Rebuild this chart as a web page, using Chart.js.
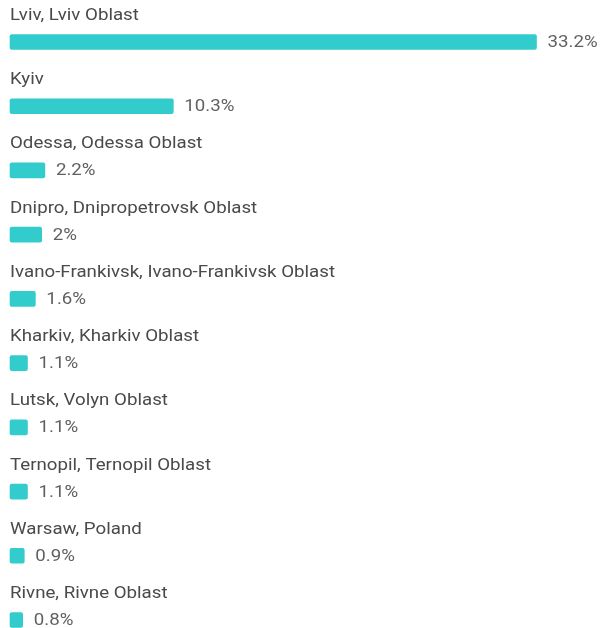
<!DOCTYPE html>
<html>
<head>
<meta charset="utf-8">
<script src="https://cdn.jsdelivr.net/npm/chart.js@4"></script>
<style>
    html, body { margin: 0; padding: 0; background: #fff; overflow: hidden; }
    #wrap { width: 602px; height: 628px; position: relative; }
</style>
</head>
<body>
<div id="wrap"><canvas id="cityChart"></canvas></div>
<script>
const cities = [
    "Lviv, Lviv Oblast",
    "Kyiv",
    "Odessa, Odessa Oblast",
    "Dnipro, Dnipropetrovsk Oblast",
    "Ivano-Frankivsk, Ivano-Frankivsk Oblast",
    "Kharkiv, Kharkiv Oblast",
    "Lutsk, Volyn Oblast",
    "Ternopil, Ternopil Oblast",
    "Warsaw, Poland",
    "Rivne, Rivne Oblast"
];
const shares = [33.2, 10.3, 2.2, 2, 1.6, 1.1, 1.1, 1.1, 0.9, 0.8];

const barColor = "#33cccc";
const labelFont = "17px Roboto";
const stretch = 1.1; // text in the source is a bit wider than plain Roboto

// draws the city name above each bar and the percent to its right
const barText = {
    id: "barText",
    afterDatasetsDraw(chart) {
        const ctx = chart.ctx;
        const meta = chart.getDatasetMeta(0);
        ctx.save();
        ctx.scale(stretch, 1);
        ctx.font = labelFont;
        ctx.textAlign = "left";
        ctx.textBaseline = "alphabetic";
        meta.data.forEach((bar, i) => {
            ctx.fillStyle = "#4a4a4a";
            ctx.fillText(cities[i], chart.chartArea.left / stretch, bar.y - 22);
            ctx.fillStyle = "#616161";
            ctx.fillText(shares[i] + "%", (bar.x + 11) / stretch, bar.y + 5);
        });
        ctx.restore();
    }
};

new Chart(document.getElementById("cityChart"), {
    type: "bar",
    data: {
        labels: cities,
        datasets: [{
            data: shares,
            backgroundColor: barColor,
            borderRadius: 2,
            borderSkipped: false,
            barThickness: 15,
            clip: false
        }]
    },
    options: {
        indexAxis: "y",
        responsive: true,
        maintainAspectRatio: false,
        animation: false,
        events: [],
        layout: { padding: { left: 10, right: 10, top: 42, bottom: 8 } },
        scales: {
            x: {
                min: 0,
                max: 36.7,
                display: false,
                grid: { display: false }
            },
            y: {
                offset: false,
                display: false,
                grid: { display: false }
            }
        },
        plugins: {
            legend: { display: false },
            tooltip: { enabled: false }
        }
    },
    plugins: [barText]
});
</script>
</body>
</html>
